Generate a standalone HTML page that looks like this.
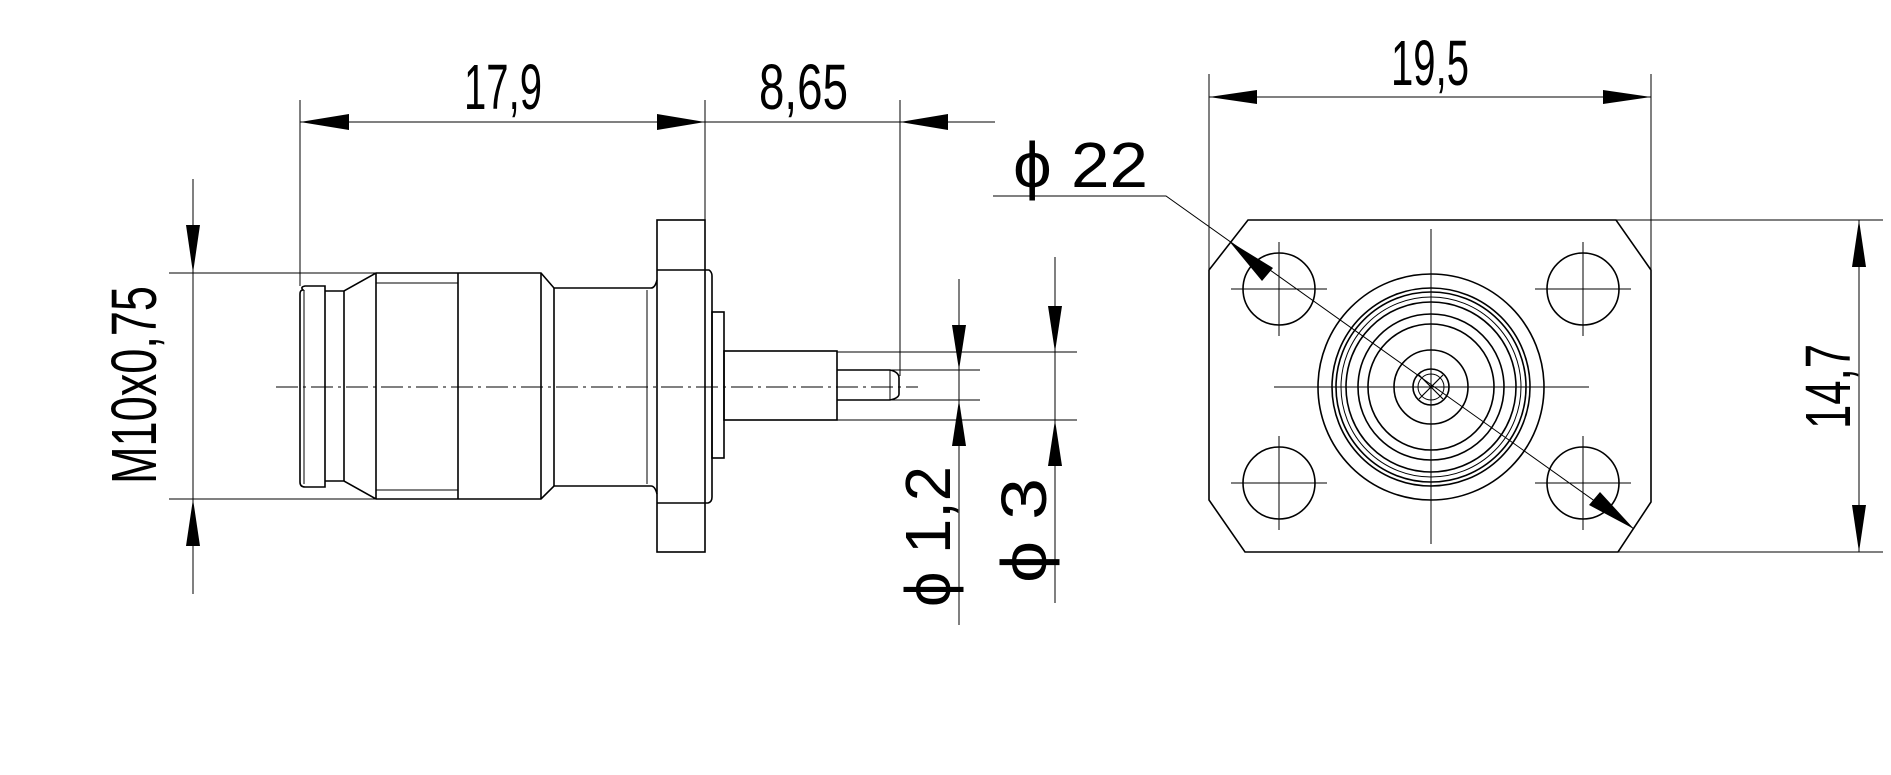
<!DOCTYPE html>
<html><head><meta charset="utf-8"><style>
html,body{margin:0;padding:0;background:#fff}
svg{display:block}
text{font-family:"Liberation Sans",sans-serif;fill:#000}
</style></head><body>
<svg width="1891" height="775" viewBox="0 0 1891 775" xmlns="http://www.w3.org/2000/svg">
<g fill="none" stroke="#000" stroke-width="1">
<!-- dimension 17,9 / 8,65 -->
<line x1="300" y1="100" x2="300" y2="286"/>
<line x1="705" y1="100" x2="705" y2="220"/>
<line x1="900" y1="100" x2="900" y2="376"/>
<line x1="300" y1="122" x2="995" y2="122"/>
<!-- M10 dim -->
<line x1="193" y1="179" x2="193" y2="594"/>
<line x1="169" y1="273" x2="376" y2="273"/>
<line x1="169" y1="499" x2="376" y2="499"/>
<!-- phi 1,2 -->
<line x1="959" y1="279" x2="959" y2="625"/>
<line x1="890" y1="370" x2="980" y2="370"/>
<line x1="890" y1="400" x2="980" y2="400"/>
<!-- phi 3 -->
<line x1="1055" y1="257" x2="1055" y2="603"/>
<line x1="837" y1="352" x2="1077" y2="352"/>
<line x1="837" y1="420" x2="1077" y2="420"/>
<!-- centerline -->
<line x1="276" y1="387" x2="918" y2="387" stroke-dasharray="22,5,3,5"/>
</g>
<g fill="#000">
<polygon points="300,122 349,114 349,130"/>
<polygon points="705,122 657,114 657,130"/>
<polygon points="900,122 948,114 948,130"/>
<polygon points="193,273 186,225 200,225"/>
<polygon points="193,499 186,546 200,546"/>
<polygon points="959,370 952,325 966,325"/>
<polygon points="959,400 952,446 966,446"/>
<polygon points="1055,352 1048,306 1062,306"/>
<polygon points="1055,420 1048,466 1062,466"/>
</g>
<!-- side view body -->
<g fill="none" stroke="#000" stroke-width="1.6">
<path d="M303,290 Q300,290 300,294 L300,482 Q300,487 305,487 L325,487 L325,286 L305,286 Q300,287 303,290 Z"/>
<line x1="304" y1="290" x2="304" y2="484" stroke-width="1"/>
<path d="M325,291 L344,291 L376,273 L541,273 L554,288 L651,288 Q655,288 657,280"/>
<path d="M325,481 L344,481 L376,499 L541,499 L554,486 L651,486 Q655,486 657,494"/>
<line x1="344" y1="291" x2="344" y2="481"/>
<line x1="376" y1="273" x2="376" y2="499"/>
<line x1="458" y1="273" x2="458" y2="499"/>
<line x1="541" y1="273" x2="541" y2="499"/>
<line x1="554" y1="288" x2="554" y2="486"/>
<line x1="376" y1="283" x2="458" y2="283" stroke-width="1"/>
<line x1="376" y1="490" x2="458" y2="490" stroke-width="1"/>
<line x1="647" y1="290" x2="647" y2="484" stroke-width="1"/>
<rect x="657" y="220" width="48" height="332"/>
<line x1="657" y1="270" x2="705" y2="270"/>
<line x1="657" y1="503" x2="705" y2="503"/>
<path d="M705,270 L709,270 Q712,272 712,276 L712,497 Q712,502 708,503 L705,503"/>
<rect x="712" y="312" width="12" height="146"/>
<rect x="724" y="351" width="113" height="69"/>
<path d="M837,370 L890,370 Q899,372 899,378 L899,394 Q899,398 890,400 L837,400"/>
<line x1="890" y1="370" x2="890" y2="400" stroke-width="1"/>
</g>
<!-- front view -->
<g fill="none" stroke="#000" stroke-width="1">
<line x1="1209" y1="74" x2="1209" y2="270"/>
<line x1="1651" y1="74" x2="1651" y2="270"/>
<line x1="1209" y1="97" x2="1651" y2="97"/>
<line x1="1616" y1="220" x2="1883" y2="220"/>
<line x1="1616" y1="552" x2="1883" y2="552"/>
<line x1="1859" y1="220" x2="1859" y2="552"/>
<polyline points="993,196 1166,196 1634,529"/>
<line x1="1274" y1="387" x2="1589" y2="387"/>
<line x1="1431" y1="229" x2="1431" y2="544"/>
<line x1="1231" y1="289" x2="1327" y2="289"/><line x1="1279" y1="242" x2="1279" y2="336"/>
<line x1="1535" y1="289" x2="1631" y2="289"/><line x1="1583" y1="242" x2="1583" y2="336"/>
<line x1="1231" y1="483" x2="1327" y2="483"/><line x1="1279" y1="436" x2="1279" y2="530"/>
<line x1="1535" y1="483" x2="1631" y2="483"/><line x1="1583" y1="436" x2="1583" y2="530"/>
</g>
<g fill="#000">
<polygon points="1209,97 1257,90 1257,104"/>
<polygon points="1651,97 1603,90 1603,104"/>
<polygon points="1859,220 1852,267 1866,267"/>
<polygon points="1859,552 1852,505 1866,505"/>
<polygon points="1229,241 1262,281 1273,268"/>
<polygon points="1634,529 1589,505 1600,492"/>
</g>
<g fill="none" stroke="#000" stroke-width="1.6">
<polygon points="1248,220 1616,220 1651,270 1651,502 1618,552 1245,552 1209,500 1209,270"/>
<circle cx="1279" cy="289" r="36"/><circle cx="1583" cy="289" r="36"/>
<circle cx="1279" cy="483" r="36"/><circle cx="1583" cy="483" r="36"/>
<circle cx="1431" cy="387" r="113"/>
<circle cx="1431" cy="387" r="99"/>
<circle cx="1431" cy="387" r="95"/>
<circle cx="1431" cy="387" r="90" stroke-width="1"/>
<circle cx="1431" cy="387" r="85"/>
<circle cx="1431" cy="387" r="73"/>
<circle cx="1431" cy="387" r="63"/>
<circle cx="1431" cy="387" r="37"/>
<circle cx="1431" cy="387" r="18"/>
<circle cx="1431" cy="387" r="13" stroke-width="1"/>
<line x1="1419" y1="375" x2="1443" y2="399" stroke-width="1.2"/>
<line x1="1443" y1="375" x2="1419" y2="399" stroke-width="1.2"/>
</g>
<!-- labels -->
<text x="464" y="109" font-size="64" textLength="78" lengthAdjust="spacingAndGlyphs">17,9</text>
<text x="759" y="109" font-size="64" textLength="89" lengthAdjust="spacingAndGlyphs">8,65</text>
<text x="1391" y="85" font-size="64" textLength="78" lengthAdjust="spacingAndGlyphs">19,5</text>
<text x="1013" y="187" font-size="64" textLength="135" lengthAdjust="spacingAndGlyphs">ϕ 22</text>
<text transform="translate(156,484) rotate(-90)" font-size="64" textLength="198" lengthAdjust="spacingAndGlyphs">M10x0,75</text>
<text transform="translate(950,607) rotate(-90)" font-size="64" textLength="141" lengthAdjust="spacingAndGlyphs">ϕ 1,2</text>
<text transform="translate(1046,583) rotate(-90)" font-size="64" textLength="105" lengthAdjust="spacingAndGlyphs">ϕ 3</text>
<text transform="translate(1850,429) rotate(-90)" font-size="64" textLength="85" lengthAdjust="spacingAndGlyphs">14,7</text>
</svg>
</body></html>
